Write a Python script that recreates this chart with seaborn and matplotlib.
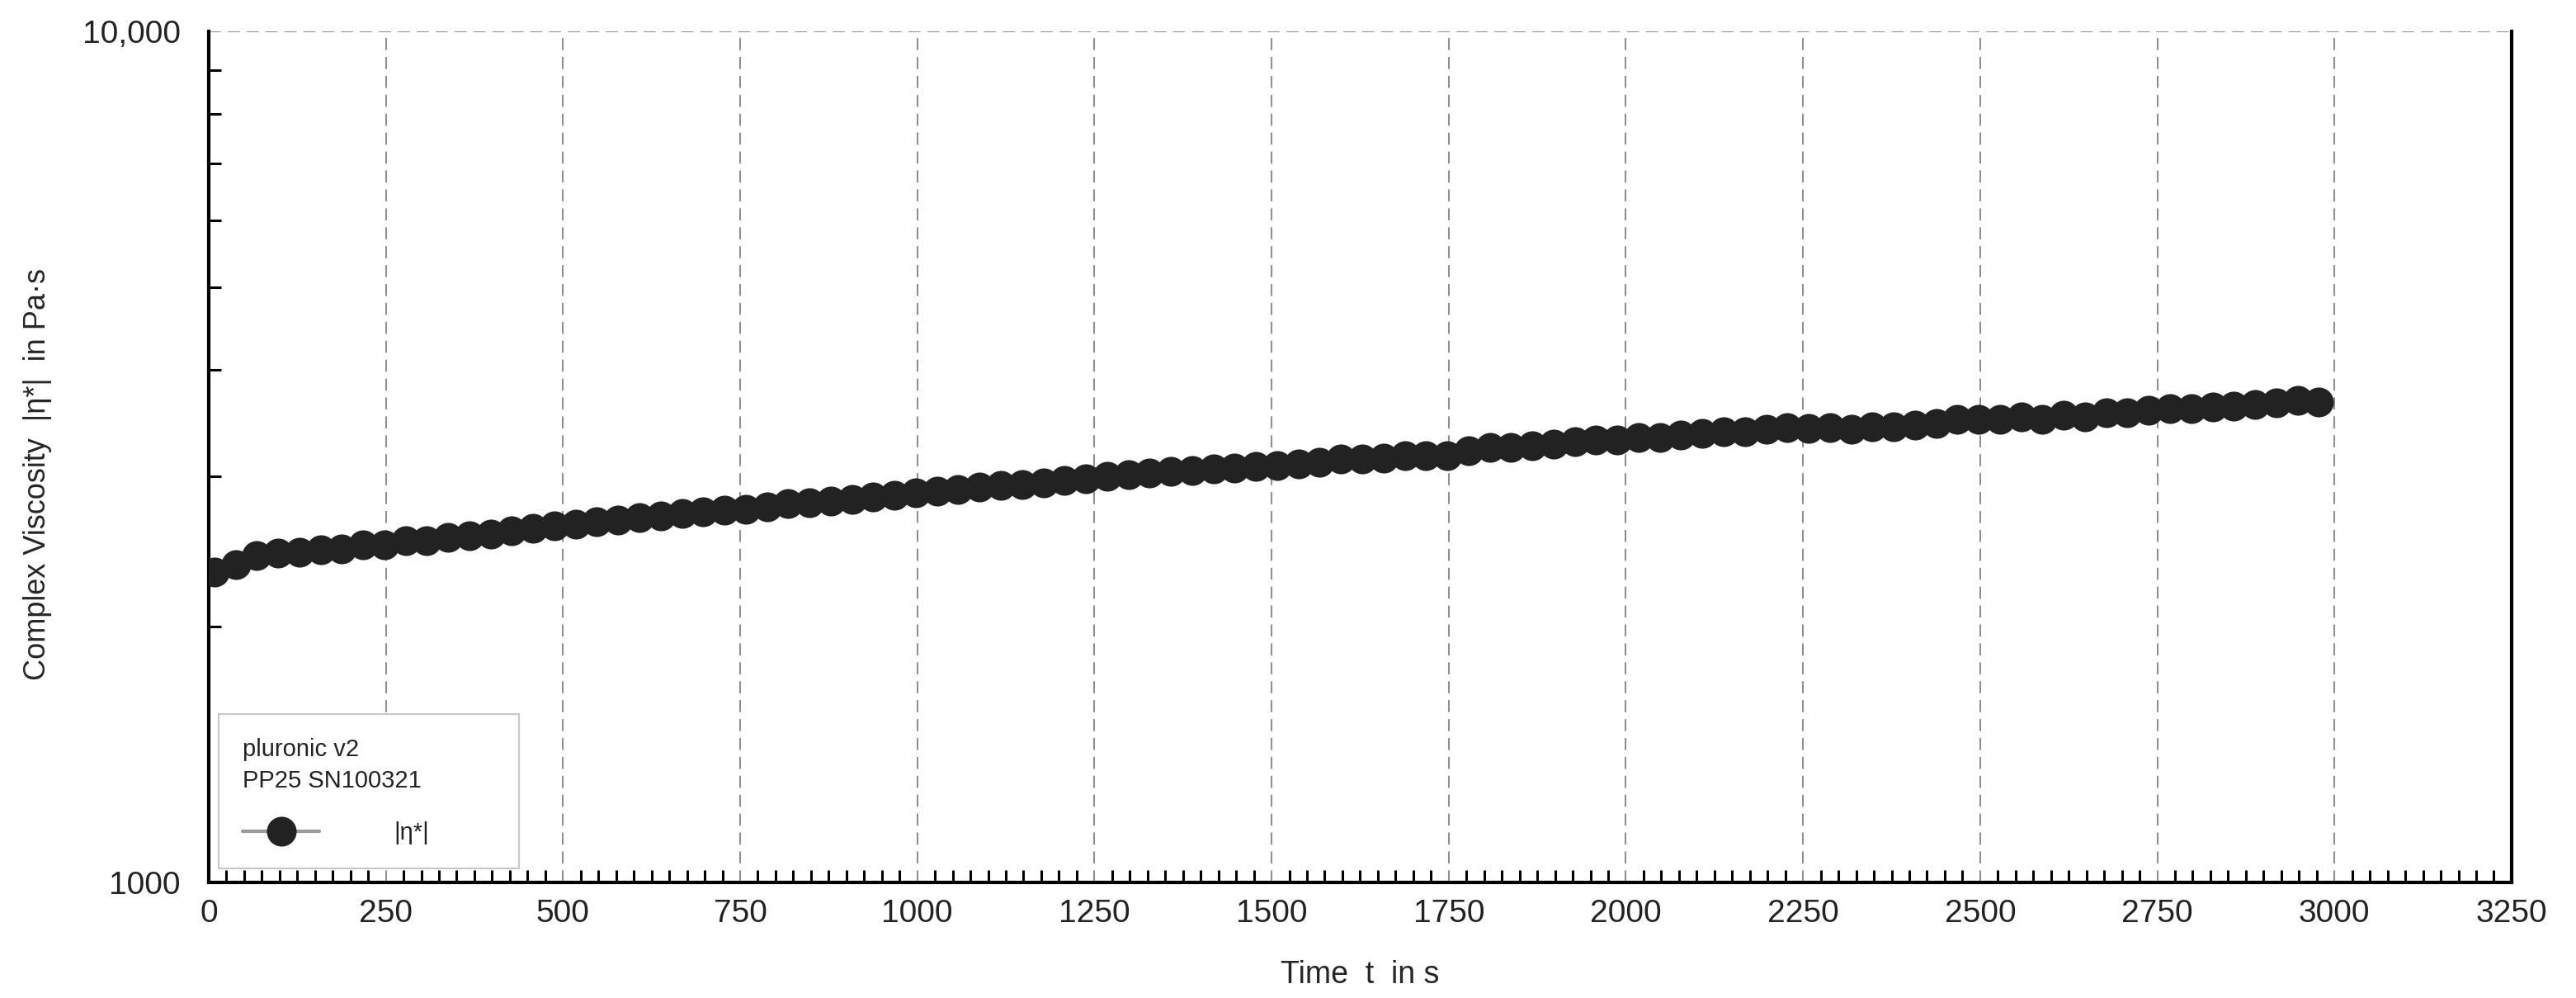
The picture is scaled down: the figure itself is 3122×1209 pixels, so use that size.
import seaborn as sns
import matplotlib.pyplot as plt
import pandas as pd
from matplotlib.ticker import FixedLocator, MultipleLocator, LogLocator, NullFormatter

time_s = [
    8, 38, 68, 98, 128, 158, 188, 218, 248, 278,
    308, 338, 368, 398, 428, 458, 488, 518, 548, 578,
    608, 638, 668, 698, 728, 758, 788, 818, 848, 878,
    908, 938, 968, 998, 1028, 1058, 1088, 1118, 1148, 1178,
    1208, 1238, 1268, 1298, 1328, 1358, 1388, 1418, 1448, 1478,
    1508, 1538, 1568, 1598, 1628, 1658, 1688, 1718, 1748, 1778,
    1808, 1838, 1868, 1898, 1928, 1958, 1988, 2018, 2048, 2078,
    2108, 2138, 2168, 2198, 2228, 2258, 2288, 2318, 2348, 2378,
    2408, 2438, 2468, 2498, 2528, 2558, 2588, 2618, 2648, 2678,
    2708, 2738, 2768, 2798, 2828, 2858, 2888, 2918, 2948, 2978,
]
viscosity = [
    2314, 2362, 2420, 2438, 2442, 2460, 2466, 2494, 2494, 2522,
    2522, 2546, 2554, 2569, 2592, 2607, 2626, 2636, 2656, 2666,
    2685, 2696, 2716, 2726, 2736, 2746, 2760, 2787, 2791, 2808,
    2819, 2840, 2851, 2872, 2883, 2894, 2915, 2926, 2937, 2948,
    2970, 2981, 3003, 3015, 3026, 3038, 3048, 3060, 3071, 3083,
    3092, 3100, 3117, 3145, 3145, 3152, 3176, 3176, 3170, 3212,
    3248, 3248, 3260, 3272, 3296, 3309, 3309, 3333, 3333, 3358,
    3371, 3383, 3383, 3408, 3421, 3415, 3421, 3408, 3433, 3433,
    3446, 3459, 3498, 3498, 3498, 3524, 3498, 3537, 3524, 3563,
    3563, 3590, 3604, 3604, 3617, 3631, 3645, 3659, 3686, 3672,
]

x_ticks = [0, 250, 500, 750, 1000, 1250, 1500, 1750, 2000, 2250, 2500, 2750, 3000, 3250]
x_tick_labels = ["0", "250", "500", "750", "1000", "1250", "1500", "1750",
                 "2000", "2250", "2500", "2750", "3000", "3250"]
y_ticks = [1000, 10000]
y_tick_labels = ["1000", "10,000"]

series_label = "|η*|"
legend_title = "pluronic v2\nPP25 SN100321"

sns.set_style("white")
plt.rcParams["font.family"] = ["Liberation Sans", "DejaVu Sans"]
plt.rcParams["text.color"] = "#222222"

df = pd.DataFrame({"t": time_s, "eta": viscosity})

fig = plt.figure(figsize=(31.22, 12.09), dpi=100)
ax = fig.add_axes([0.0810, 0.1158, 0.8940, 0.8528])

sns.lineplot(data=df, x="t", y="eta", ax=ax, color="#9a9a9a", linewidth=3,
             marker="o", markersize=26, markerfacecolor="#222222",
             markeredgecolor="#222222", markeredgewidth=0, label=series_label,
             zorder=3)

ax.set_yscale("log")
ax.set_xlim(0, 3250)
ax.set_ylim(1000, 10000)

ax.xaxis.set_major_locator(FixedLocator(x_ticks))
ax.set_xticklabels(x_tick_labels)
ax.xaxis.set_minor_locator(MultipleLocator(25))
ax.yaxis.set_major_locator(FixedLocator(y_ticks))
ax.set_yticklabels(y_tick_labels)
ax.yaxis.set_minor_locator(LogLocator(base=10, subs=range(2, 10)))
ax.yaxis.set_minor_formatter(NullFormatter())

ax.tick_params(which="major", direction="inout", length=25, width=2.5,
               color="black", labelsize=28, labelcolor="#222222")
ax.tick_params(which="minor", direction="in", length=11, width=2.2, color="black")
ax.tick_params(axis="x", which="major", pad=2)
ax.tick_params(axis="y", which="major", pad=12)
ax.tick_params(axis="y", which="minor", left=True)
ax.tick_params(axis="x", which="minor", bottom=True)

ax.grid(True, which="major", color="#8f8f8f", linestyle=(0, (7, 4)), linewidth=1.5)
ax.set_axisbelow(True)

for side in ["left", "bottom", "right"]:
    ax.spines[side].set_color("black")
    ax.spines[side].set_linewidth(3)
ax.spines["top"].set_visible(False)

ax.set_xlabel("Time  t  in s", fontsize=27)
ax.set_ylabel("Complex Viscosity  |η*|  in Pa·s", fontsize=26)
ax.xaxis.set_label_coords(0.5, -0.091)
ax.yaxis.set_label_coords(-0.068, 0.48)

leg = ax.legend(title=legend_title, loc="lower left",
                bbox_to_anchor=(0.0043, 0.0165, 0.1304, 0.18), mode="expand",
                borderaxespad=0, fontsize=21, title_fontsize=21, alignment="left",
                frameon=True, fancybox=False, edgecolor="#c8c8c8", facecolor="white",
                framealpha=1, handlelength=3.2, handletextpad=3.1, borderpad=1.0,
                labelspacing=1.2)
leg.get_frame().set_linewidth(1.5)
leg.get_title().set_linespacing(1.45)

plt.savefig("out.png", dpi=100)
